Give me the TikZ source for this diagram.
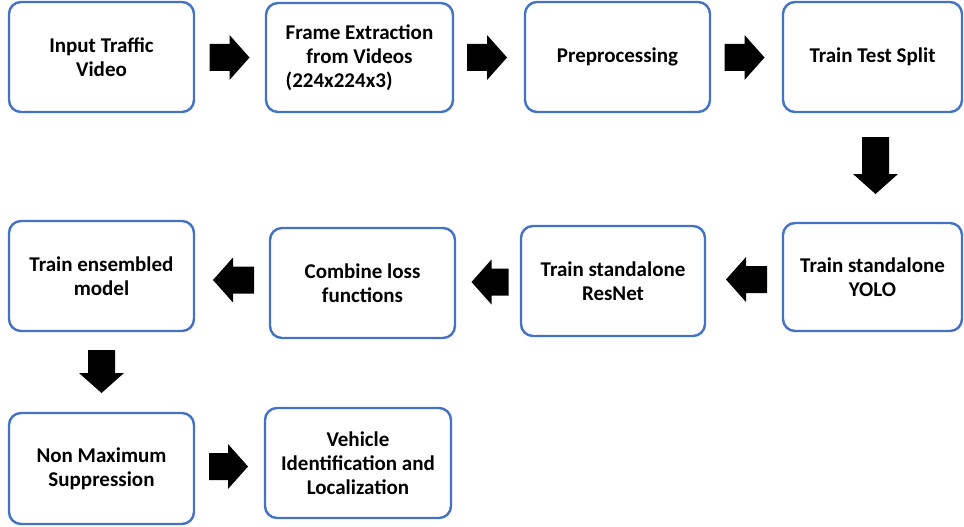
\documentclass[tikz,border=0pt]{standalone}
\usepackage{fontspec}
\usepackage{calc}
\setmainfont{Carlito}
\definecolor{boxblue}{HTML}{4472C4}
\tikzset{
  procbox/.style={draw=boxblue, line width=2.4pt, rounded corners=12pt, fill=white,
    minimum width=#1, minimum height=110pt, inner sep=0pt, align=center,
    font=\fontsize{21}{24}\selectfont\bfseries, text=black},
  procbox/.default=185pt,
  blockarrow/.pic={
    \fill[black] (-#1/2,-13.5) -- (#1/2-20,-13.5) -- (#1/2-20,-22.5) -- (#1/2,0)
      -- (#1/2-20,22.5) -- (#1/2-20,13.5) -- (-#1/2,13.5) -- cycle;
  }
}
\begin{document}
\begin{tikzpicture}[x=1pt,y=-1pt]
\useasboundingbox (0,0) rectangle (964,527);
% boxes
\node[procbox] (b1) at (101.5,57) {Input Traffic\\Video};
\node[procbox=187pt, minimum height=109pt] (b2) at (359.5,57.5) {Frame Extraction\\from Videos\\\makebox[\widthof{Frame Extraction}][l]{(224x224x3)}};
\node[procbox] (b3) at (617.5,57) {Preprocessing};
\node[procbox=179pt] (b4) at (872.5,57) {Train Test Split};
\node[procbox=179pt, minimum height=108pt] (b5) at (872.5,277) {Train standalone\\YOLO};
\node[procbox=184pt] (b6) at (613,281) {Train standalone\\ResNet};
\node[procbox] (b7) at (362.5,283) {Combine loss\\functions};
\node[procbox] (b8) at (101.5,276) {Train ensembled\\model};
\node[procbox, minimum height=111pt] (b9) at (101.5,468.5) {Non Maximum\\Suppression};
\node[procbox=186pt] (b10) at (358,463) {Vehicle\\Identification and\\Localization};
% block arrows
\pic at (229.5,57.5) {blockarrow=40};
\pic at (487,57.5) {blockarrow=40};
\pic at (744.5,57.5) {blockarrow=40};
\pic[rotate=-90] at (875.5,165.5) {blockarrow=57};
\pic[rotate=180] at (746.5,279.5) {blockarrow=41};
\pic[rotate=180] at (490,282) {blockarrow=37};
\pic[rotate=180] at (233.5,280) {blockarrow=41};
\pic[rotate=-90] at (101.5,371.5) {blockarrow=43};
\pic at (228.5,466.5) {blockarrow=39};
\end{tikzpicture}
\end{document}
